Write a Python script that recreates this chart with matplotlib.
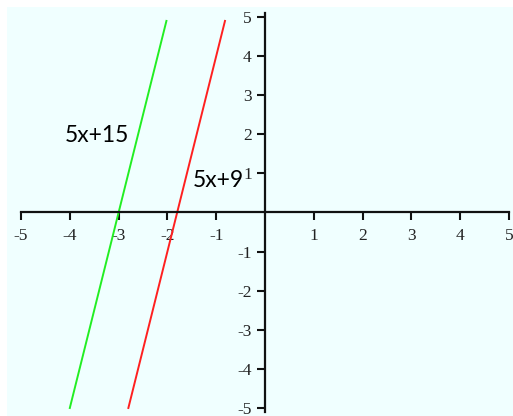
import numpy as np
import matplotlib.pyplot as plt

# --- DATA ---
ticks = [-5, -4, -3, -2, -1, 1, 2, 3, 4, 5]
tick_labels = [str(t) for t in ticks]

# two lines: y = 5x + 15 and y = 5x + 9, drawn over short x ranges
green_x = np.array([-4.0, -2.02])
red_x = np.array([-2.8, -0.82])
green_label = "5x+15"
red_label = "5x+9"


def main():
    fig = plt.figure(figsize=(5.13, 4.16), dpi=100, facecolor="white")
    W, H = 513, 416
    # axes area in pixels: left 7, top 7, to the right/bottom edge
    ax = fig.add_axes([7 / W, 0, 1 - 7 / W, 1 - 7 / H])
    ax.set_facecolor("#f0ffff")

    ax.set_xlim(-5.287, 5.082)
    ax.set_ylim(-5.205, 5.256)

    ax.plot(green_x, 5 * green_x + 15, color="#22ee22", lw=1.4)
    ax.plot(red_x, 5 * red_x + 9, color="#ff2020", lw=1.4)

    # axes through the origin
    for s in ["top", "right"]:
        ax.spines[s].set_visible(False)
    ax.spines["left"].set_position(("data", 0))
    ax.spines["bottom"].set_position(("data", 0))
    ax.spines["left"].set_bounds(-5.1, 5.1)
    ax.spines["bottom"].set_bounds(-5, 5)
    for s in ["left", "bottom"]:
        ax.spines[s].set_linewidth(1.6)
        ax.spines[s].set_color("#111111")

    ax.set_xticks(ticks)
    ax.set_xticklabels(tick_labels)
    ax.set_yticks(ticks)
    ax.set_yticklabels(tick_labels)
    ax.tick_params(direction="out", length=5.5, width=1.5, color="#111111",
                   labelsize=12.5, labelcolor="#222222")
    ax.tick_params(axis="x", pad=6)
    ax.tick_params(axis="y", pad=4)
    for lab in ax.get_xticklabels() + ax.get_yticklabels():
        lab.set_family("Liberation Serif")

    ax.text(-3.44, 1.97, green_label, fontsize=16.5, family="Lato",
            ha="center", va="center", color="black")
    ax.text(-0.96, 0.82, red_label, fontsize=16.5, family="Lato",
            ha="center", va="center", color="black")

    fig.savefig("out.png", dpi=100, facecolor="white")


if __name__ == "__main__":
    main()
